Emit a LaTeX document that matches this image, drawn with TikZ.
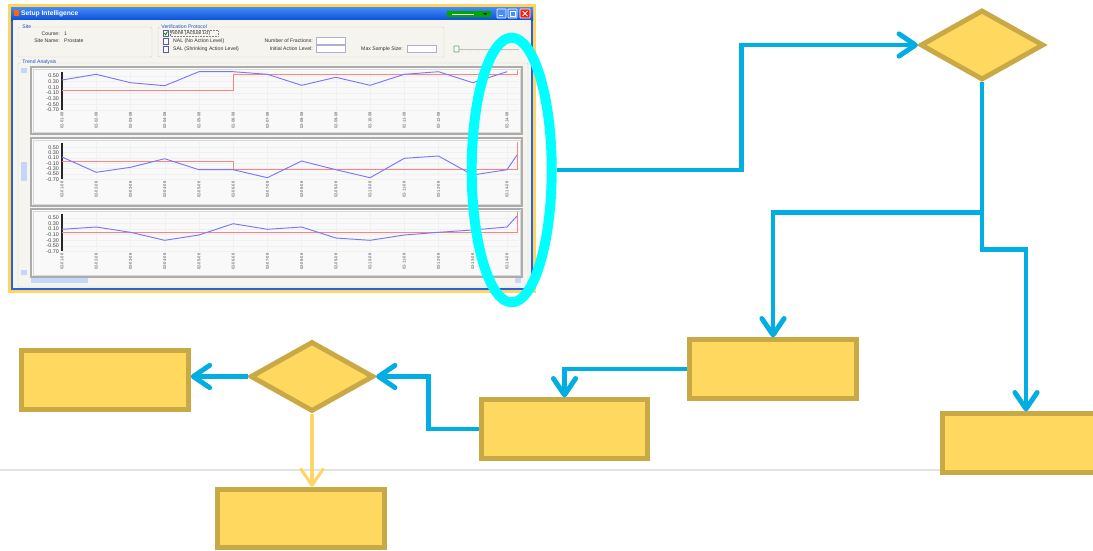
\documentclass[tikz,border=0pt]{standalone}
\usepackage{fontspec}
\setsansfont{Liberation Sans}
\usetikzlibrary{arrows.meta,shapes.geometric}

\definecolor{flowblue}{RGB}{0,174,228}
\definecolor{boxfill}{RGB}{255,216,96}
\definecolor{boxedge}{RGB}{201,169,69}
\definecolor{ringcyan}{RGB}{0,255,255}
\definecolor{paleyellow}{RGB}{255,214,102}
\definecolor{xpframe}{RGB}{255,214,90}
\definecolor{xpedge}{RGB}{40,96,230}
\definecolor{xptitle}{RGB}{10,80,215}
\definecolor{xptitletop}{RGB}{70,140,250}
\definecolor{xpbody}{RGB}{245,244,238}
\definecolor{grpblue}{RGB}{30,80,200}
\definecolor{plotblue}{RGB}{120,120,255}
\definecolor{plotred}{RGB}{255,130,130}
\definecolor{scrollblue}{RGB}{196,214,250}

\tikzset{
  >={Straight Barb[length=14pt,width=19pt,round]},
  stepbox/.style={draw=boxedge,fill=boxfill,line width=4.2pt,
    minimum width=5cm,minimum height=1.75cm,inner sep=0pt},
  decision/.style={diamond,draw=boxedge,fill=boxfill,line width=4.2pt,
    minimum width=3.7cm,minimum height=2.1cm,inner sep=0pt},
  flow/.style={->,draw=flowblue,line width=4.2pt},
  paleflow/.style={->,draw=paleyellow,line width=2.6pt},
  uitext/.style={font=\sffamily\fontsize{4.4}{5}\selectfont,inner sep=0pt,text=black!80},
  grouptitle/.style={uitext,text=grpblue,fill=xpbody,inner xsep=1pt},
  axisval/.style={font=\sffamily\fontsize{4.6}{5}\selectfont,inner sep=0pt,anchor=east,text=black!75},
  datelabel/.style={font=\sffamily\fontsize{3.5}{4}\selectfont,inner sep=0pt,rotate=90,anchor=east,text=black!70},
  textbox/.style={draw=blue!25!gray!50,fill=white,line width=0.5pt},
  chkbox/.style={draw=blue!30!gray,fill=white,line width=0.5pt},
  trendblue/.style={plotblue,line width=0.8pt,line join=round},
  trendred/.style={plotred,line width=0.8pt},
}

% one chart panel: top, bottom, y of 0.50, step between values, name prefix
\newcommand{\trendframe}[5]{%
  \draw[gray!65,line width=1pt,fill=white!95!gray] (31,#1) rectangle (522,#2);
  \draw[gray!30,line width=0.4pt] (33,#1+2) rectangle (520,#2-2);
  \foreach \k in {0,...,6}
    \draw[gray!12,line width=0.3pt] (62,#3+\k*#4) -- (519,#3+\k*#4);
  \foreach \i in {0,...,13}
    \draw[gray!12,line width=0.3pt] (62+\i*34.23,#1+4) -- (62+\i*34.23,#3+6*#4);
  \foreach \v [count=\k from 0] in {0.50,0.30,0.10,-0.10,-0.30,-0.50,-0.70}
    \node[axisval] (#5val\k) at (59,#3+\k*#4) {\v};
  \draw[black!85,line width=1.7pt] (62,#3-4) -- (62,#3+6*#4);
  \foreach \i in {1,...,14}
    \node[datelabel] (#5date\i) at (62+\i*34.23-34.23,#3+6*#4+2)
      {02-\ifnum\i<10 0\fi\i-08};
}

\begin{document}
\begin{tikzpicture}[x=0.03cm,y=-0.03cm]
\useasboundingbox (0,0) rectangle (1093,550);
%
\draw[gray!22,line width=1.2pt] (0,470) -- (940,470);
%
%% application window
\fill[xpframe] (8,4) rectangle (536,293);
\fill[xpedge] (11,7) rectangle (533,290);
\shade[top color=xptitletop,bottom color=xptitle] (11,7) rectangle (533,20);
\fill[xpbody] (13,20) rectangle (531,288);
\fill[orange!80!red] (14,10) rectangle (19,16);
\node[font=\sffamily\bfseries\fontsize{5.7}{6}\selectfont,text=white,inner sep=0pt,anchor=west]
  (title) at (21,13.5) {Setup Intelligence};
% title bar buttons
\fill[green!65!black,rounded corners=0.5pt] (447,11) rectangle (491,17);
\draw[white,line width=0.6pt] (452,14) -- (474,14);
\fill[black] (483,13) -- (487,13) -- (485,15) -- cycle;
\foreach \bx in {497,508} {
  \draw[white,fill=xptitletop,line width=0.5pt,rounded corners=0.5pt] (\bx,9) rectangle (\bx+9,18);
}
\draw[white,line width=0.6pt] (499,15.5) -- (503,15.5);
\draw[white,line width=0.5pt] (510,11) rectangle (515,16);
\draw[white,fill=red!80!orange,line width=0.5pt,rounded corners=0.5pt] (520,9) rectangle (530,18);
\draw[white,line width=0.8pt] (522.5,11) -- (527.5,16) (522.5,16) -- (527.5,11);
%
% site group
\draw[gray!35,rounded corners=1pt] (18,27) rectangle (152,57);
\node[grouptitle,anchor=west] (site) at (21,27) {Site};
\node[uitext,anchor=east] (course) at (60,33.5) {Course:};
\node[uitext,anchor=west] (coursenr) at (64,33.5) {1};
\node[uitext,anchor=east] (sitename) at (60,41) {Site Name:};
\node[uitext,anchor=west] (siteval) at (64,41) {Prostate};
%
% verification group
\draw[gray!35,rounded corners=1pt] (158,27) rectangle (444,57);
\node[grouptitle,anchor=west] (protocol) at (160,27) {Verification Protocol};
\draw[chkbox] (163,30.5) rectangle (168.5,36);
\draw[green!55!black,line width=0.7pt] (164.3,33.2) -- (165.6,34.8) -- (167.5,31.5);
\node[uitext,anchor=west] (optnone) at (171,33.3) {None (Actual 1σ)};
\draw[gray,densely dotted,line width=0.3pt] (170,30.5) rectangle (218,36);
\draw[chkbox] (163,38.5) rectangle (168.5,44);
\node[uitext,anchor=west] (optnal) at (173,41.3) {NAL (No Action Level)};
\draw[chkbox] (163,46.5) rectangle (168.5,52);
\node[uitext,anchor=west] (optsal) at (173,49.3) {SAL (Shrinking Action Level)};
\node[uitext,anchor=east] (fractions) at (313,41) {Number of Fractions:};
\draw[textbox] (316,37.5) rectangle (345,44);
\node[uitext,anchor=east] (initial) at (313,49) {Initial Action Level:};
\draw[textbox] (316,45.5) rectangle (345,52);
\node[uitext,anchor=east] (maxsize) at (403,49) {Max Sample Size:};
\draw[textbox] (407,45.5) rectangle (436,52);
% slider
\draw[gray!50,line width=0.5pt] (457,49) -- (519,49);
\foreach \t in {462,470,...,518} \fill[gray!60] (\t,51) circle (0.35);
\draw[gray!70!green,fill=white,line width=0.6pt,rounded corners=0.6pt] (454,46) rectangle (459,52);
%
% trend analysis group
\draw[gray!35,rounded corners=1pt] (18,63) rectangle (528,287);
\node[grouptitle,anchor=west] (trend) at (21,62.5) {Trend Analysis};
\fill[scrollblue] (21,68) rectangle (27,73);
\fill[scrollblue] (21,162) rectangle (27,181);
\fill[scrollblue] (21,270) rectangle (27,275);
\fill[scrollblue] (31,278) rectangle (88,283);
\fill[scrollblue] (515,278) rectangle (521,283);
%
\trendframe{67}{134}{76}{5.67}{a}
\trendframe{138}{206}{147.3}{5.33}{b}
\trendframe{209}{277}{218}{5.55}{c}
%
\draw[trendred] (62,90.7) -- (233,90.7) -- (233,74.3) -- (517,74.3) -- (517,70);
\draw[trendblue] (62,80) \foreach \yv [count=\i] in
  {74.3,82.7,85.7,71.7,71.7,74.3,85.3,77.3,85.3,74.3,71.7,82.7,71.7}
  { -- (62+\i*34.23,\yv) };
\draw[trendred] (62,161.3) -- (233,161.3) -- (233,169.7) -- (517,169.7) -- (517,142);
\draw[trendblue] (62,157) \foreach \yv [count=\i] in
  {172.3,167.3,158.7,169.7,169.7,177.7,161,169.7,177.7,158.3,156,175,169.7}
  { -- (62+\i*34.23,\yv) } -- (517,155);
\draw[trendred] (62,232) -- (517,232) -- (517,212);
\draw[trendblue] (62,229.3) \foreach \yv [count=\i] in
  {227,232.3,240.3,235,223.7,229.3,227,238,240.3,235,232.3,230,227}
  { -- (62+\i*34.23,\yv) } -- (517,216);
%
%% highlight ring
\node[ellipse,draw=ringcyan,line width=8.5pt,minimum width=2.4cm,minimum height=7.94cm,
  inner sep=0pt] (focus) at (511.7,170) {};
%
%% flow chart
\node[decision] (check) at (982,45) {};
\node[stepbox] (stepA) at (773,369) {};
\node[stepbox] (stepB) at (1026,443) {};
\node[stepbox] (stepD) at (564.5,429) {};
\node[decision] (review) at (312,376.5) {};
\node[stepbox] (stepC) at (105,380) {};
\node[stepbox] (stepE) at (301,518.5) {};
%
\draw[flow] (focus.east) -- ++(185,0) |- (check.west);
\draw[flow] (check.south) -- ++(0,130) coordinate (fork) -| (stepA.north);
\draw[flow] (fork) -- ++(0,37) -| (stepB.north);
\draw[flow] (stepA.west) -| (stepD.north);
\draw[flow] (stepD.west) -- ++(-50,0) |- (review.east);
\draw[flow] (review.west) -- (review.west -| stepC.east);
\draw[paleflow] (review.south) -- (review.south |- stepE.north);
\end{tikzpicture}
\end{document}
